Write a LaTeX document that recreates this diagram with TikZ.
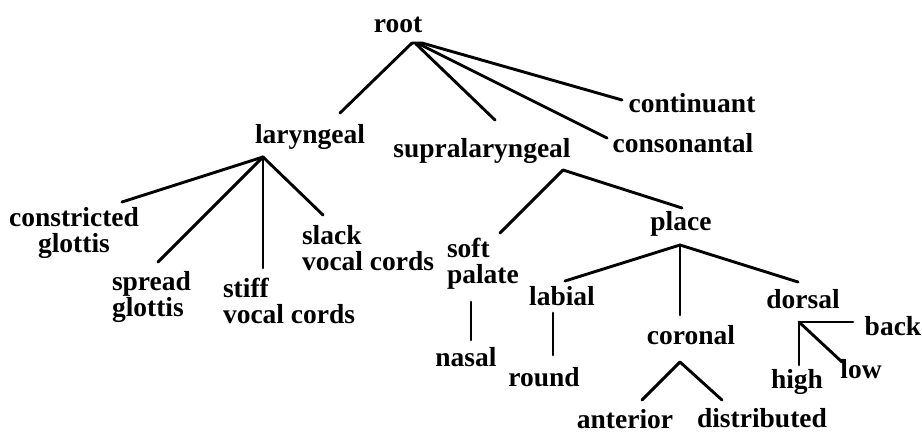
\documentclass[tikz,border=0pt]{standalone}
\usepackage{fontspec}
\setmainfont{Liberation Serif}
\usetikzlibrary{calc}
\begin{document}
\begin{tikzpicture}[x=1pt,y=-1pt,
  feat/.style={inner sep=0pt, outer sep=0pt,
    font=\fontsize{27.5}{26}\selectfont\bfseries},
  branch/.style={line width=2.9pt, line cap=round, line join=round}]
\fill[white] (0,0) rectangle (922,434);
\useasboundingbox (0,0) rectangle (922,434);

% feature labels
\node[feat] (root) at (398,25) {root};
\node[feat] (laryngeal) at (310,137) {laryngeal};
\node[feat] (supra) at (482,151) {supralaryngeal};
\node[feat] (continuant) at (692,103) {continuant};
\node[feat] (consonantal) at (683,143) {consonantal};
\node[feat, align=center] (cg) at (74,233) {constricted\\glottis};
\node[feat, align=left, anchor=west] (sg) at (112,297) {spread\\glottis};
\node[feat, align=left, anchor=west] (stiff) at (223,301) {stiff\\vocal cords};
\node[feat, align=left, anchor=west] (slack) at (302,248) {slack\\vocal cords};
\node[feat, align=left, anchor=west] (soft) at (447,264) {soft\\palate};
\node[feat] (nasal) at (466,357) {nasal};
\node[feat] (place) at (681,224) {place};
\node[feat] (labial) at (562,296) {labial};
\node[feat] (round) at (544,377) {round};
\node[feat] (coronal) at (691,335) {coronal};
\node[feat] (anterior) at (625,419) {anterior};
\node[feat] (distributed) at (762,418) {distributed};
\node[feat] (dorsal) at (803,299) {dorsal};
\node[feat] (back) at (893,326) {back};
\node[feat] (low) at (861,369) {low};
\node[feat] (high) at (797,382) {high};

% branching points
\coordinate (dorsalj) at ($(dorsal)+(-4,23)$);

% root
\draw[branch] ($(root)+(14,18)$) -- ($(laryngeal)+(30,-24)$);
\draw[branch] ($(root)+(18,19)$) -- ($(supra)+(13,-31)$);
\draw[branch] ($(root)+(21,19)$) -- ($(consonantal)+(-76,-5)$);
\draw[branch] ($(root)+(14,18)$) -- ($(root)+(24,18)$) -- ($(continuant)+(-70,-3)$);

% laryngeal
\draw[branch] ($(laryngeal)+(-47,20)$) -- ($(cg)+(48,-31)$);
\draw[branch] ($(laryngeal)+(-47,20)$) -- ($(sg.west)+(46,-35)$);
\draw[branch] ($(laryngeal)+(-47,20)$) -- ($(stiff.west)+(40,-33)$);
\draw[branch] ($(laryngeal)+(-47,20)$) -- ($(slack.west)+(21,-33)$);

% supralaryngeal
\draw[branch] ($(soft.west)+(53,-31)$) -- ($(supra)+(81,19)$) -- ($(place)+(1,-16)$);
\draw[branch] ($(soft.west)+(24,38)$) -- ($(nasal)+(5,-17)$);

% place
\draw[branch] ($(place)+(-1,21)$) -- ($(labial)+(3,-15)$);
\draw[branch] ($(place)+(-1,21)$) -- ($(coronal)+(-11,-20)$);
\draw[branch] ($(place)+(-1,21)$) -- ($(dorsal)+(-5,-17)$);
\draw[branch] ($(labial)+(-9,17)$) -- ($(round)+(9,-22)$);

% coronal
\draw[branch] ($(anterior)+(17,-19)$) -- ($(coronal)+(-11,27)$) -- ($(distributed)+(-40,-18)$);

% dorsal
\draw[branch] ($(high)+(2,-17)$) -- (dorsalj) -- ($(back)+(-40,-4)$);
\draw[branch] (dorsalj) -- ($(low)+(-19,-7)$);
\end{tikzpicture}
\end{document}
